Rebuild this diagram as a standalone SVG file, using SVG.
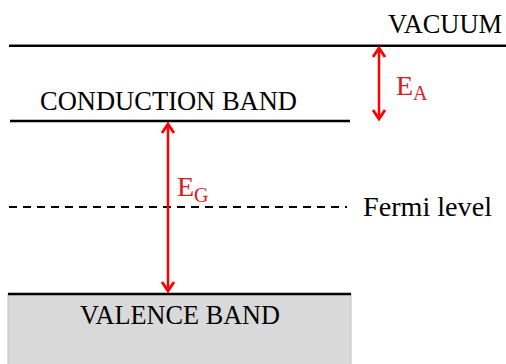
<svg xmlns="http://www.w3.org/2000/svg" width="506" height="364" viewBox="0 0 506 364">
<style>
.lvl{stroke:#000;stroke-width:2.5;fill:none}
.t{font-family:"Liberation Serif","Times New Roman",serif;font-size:27px;fill:#000}
.r{font-family:"Liberation Serif","Times New Roman",serif;fill:#d62020}
.arr{stroke:#ff0000;stroke-width:2.5;fill:none}
.head{stroke:#ff0000;stroke-width:2.8;fill:none;stroke-linejoin:miter}
</style>
<rect width="506" height="364" fill="#fff"/>
<g id="valence">
<rect x="8" y="294" width="343" height="72" fill="#d9d9d9" stroke="#bfbfbf" stroke-width="1"/>
<line class="lvl" x1="8" y1="294" x2="351" y2="294"/>
<text class="t" x="80" y="324" textLength="200" lengthAdjust="spacingAndGlyphs">VALENCE BAND</text>
</g>
<g id="vacuum">
<line class="lvl" x1="9" y1="45.7" x2="506" y2="45.7"/>
<text class="t" x="388" y="33" textLength="114" lengthAdjust="spacingAndGlyphs">VACUUM</text>
</g>
<g id="conduction">
<line class="lvl" x1="10" y1="121" x2="350" y2="121"/>
<text class="t" x="40" y="110" textLength="257" lengthAdjust="spacingAndGlyphs">CONDUCTION BAND</text>
</g>
<g id="fermi">
<line x1="9" y1="207" x2="347" y2="207" stroke="#000" stroke-width="2" stroke-dasharray="8 6"/>
<text class="t" x="363" y="216" font-size="28" textLength="129" lengthAdjust="spacingAndGlyphs">Fermi level</text>
</g>
<g id="connectors">
<line class="arr" x1="379" y1="49" x2="379" y2="118"/>
<polyline class="head" points="373,57 379,48 385,57"/>
<polyline class="head" points="373,110 379,119 385,110"/>
<line class="arr" x1="168" y1="125" x2="168" y2="290"/>
<polyline class="head" points="162,133 168,124 174,133"/>
<polyline class="head" points="162,282 168,291 174,282"/>
</g>
<g id="labels">
<text class="r" x="396" y="95" font-size="28">E<tspan font-size="20" dy="5">A</tspan></text>
<text class="r" x="177" y="196" font-size="28">E<tspan font-size="20" dy="6">G</tspan></text>
</g>
</svg>
